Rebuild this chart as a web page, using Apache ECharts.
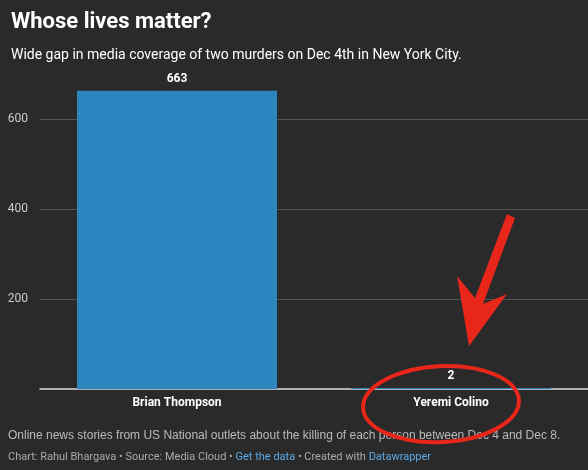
<!DOCTYPE html><html><head><meta charset="utf-8"><script src="https://cdn.jsdelivr.net/npm/echarts@6/dist/echarts.min.js"></script>
<style>html,body{margin:0;background:#2a2a2a}#c{width:588px;height:470px}</style></head><body><div id="c"></div><script>
const categories=['Brian Thompson','Yeremi Colino'];
const values=[663,2];
const yTicks=[0,200,400,600];
const ch=echarts.init(document.getElementById('c'));
ch.setOption({backgroundColor:'#2a2a2a',textStyle:{fontFamily:'Roboto'},
title:[{text:'Whose lives matter?',left:6,top:6,textStyle:{color:'#fff',fontSize:22,fontWeight:'bold',fontFamily:'Roboto'}},
{text:'Wide gap in media coverage of two murders on Dec 4th in New York City.',left:6,top:43,textStyle:{color:'#fff',fontSize:14,fontWeight:'normal'}}],
grid:{left:40,top:74,width:572,bottom:81},
xAxis:{type:'category',data:categories,axisLine:{lineStyle:{color:'#ddd',width:1.5}},axisTick:{show:false},axisLabel:{color:'#fff',fontSize:12,fontWeight:'bold',margin:8}},
yAxis:{type:'value',min:0,max:700,interval:100,axisLine:{show:false},axisTick:{show:false},
splitLine:{lineStyle:{color:['transparent','transparent','#555','transparent','#555','transparent','#555','transparent']}},
axisLabel:{color:'#ccc',fontSize:12,margin:12,formatter:v=>yTicks.includes(v)&&v!==0?v:''}},
series:[{type:'bar',data:values,barWidth:200,itemStyle:{color:'#2e86c1'},label:{show:true,position:'top',color:'#fff',fontSize:12,fontWeight:'bold',distance:6}}],
graphic:[{type:'text',left:8,top:430,style:{text:'Online news stories from US National outlets about the killing of each person between Dec 4 and Dec 8.',fill:'#bbb',font:'italic 12px Roboto'}},
{type:'text',left:8,top:452,style:{rich:{a:{fill:'#aaa',fontSize:11,fontFamily:'Roboto'},b:{fill:'#5aa9e6',fontSize:11,fontFamily:'Roboto'}},text:'{a|Chart: Rahul Bhargava • Source: Media Cloud • }{b|Get the data}{a| • Created with }{b|Datawrapper}'}}]});
const p=ch.convertToPixel({seriesIndex:0},[1,2]);
const cx=p[0]-10,cy=p[1]+16;
ch.setOption({graphic:[{},{},
{type:'ellipse',shape:{cx:cx,cy:cy,rx:78,ry:38},style:{fill:'none',stroke:'#e8261a',lineWidth:4},rotation:0.05,originX:cx,originY:cy,z:10},
{type:'polygon',shape:{points:[[cx+66,cy-190],[cx+74,cy-186],[cx+42,cy-100],[cx+66,cy-110],[cx+28,cy-58],[cx+16,cy-128],[cx+34,cy-106]]},style:{fill:'#e8261a'},z:10}]});
</script></body></html>
